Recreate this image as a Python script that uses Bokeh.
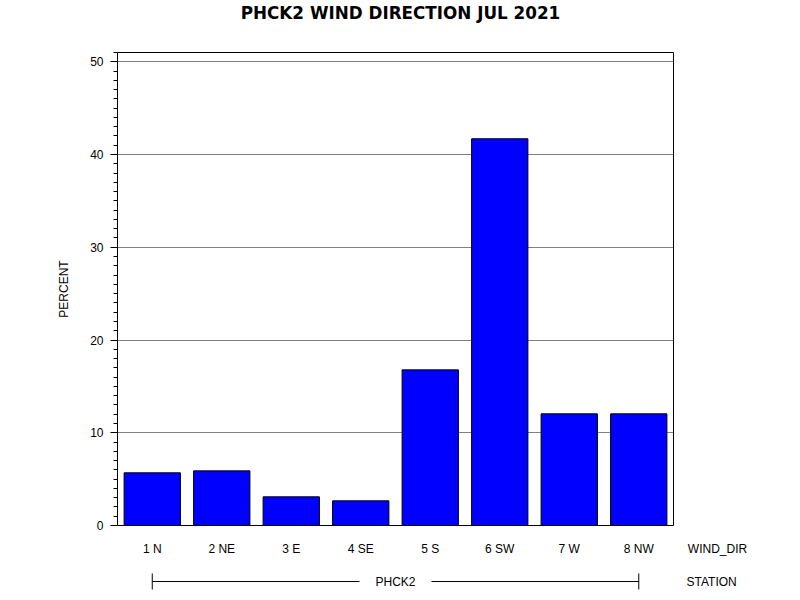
from bokeh.plotting import figure
from bokeh.layouts import column
from bokeh.models import Range1d, SingleIntervalTicker, FixedTicker
from bokeh.core.properties import value
from bokeh.embed import file_html
from bokeh.resources import INLINE

# ---- data ----
wind_dirs = ["1 N", "2 NE", "3 E", "4 SE", "5 S", "6 SW", "7 W", "8 NW"]
percent = [5.68, 5.89, 3.09, 2.66, 16.78, 41.70, 12.04, 12.04]
station = "PHCK2"
title_text = "PHCK2 WIND DIRECTION JUL 2021"
y_label = "PERCENT"
x_label = "WIND_DIR"
group_label = "STATION"
y_max = 51

FONT = "Liberation Sans"
TITLE_FONT = "DejaVu Sans"

# ---- layout constants (pixels) ----
W = 784
H_TITLE = 30
H_MAIN = 532
H_STRIP = 30
BOX_L, BOX_R, BOX_T, BOX_B = 117, 673, 52, 525
FRAME_T = 49
FRAME_B = 528

n = len(wind_dirs)
px_x = (BOX_R - BOX_L) / n
px_y = (BOX_B - BOX_T) / y_max

xpos = [i + 0.5 for i in range(n)]

# ---- title strip ----
t = figure(width=W, height=H_TITLE,
           x_range=Range1d(0, (W - BOX_L) / px_x),
           y_range=Range1d(H_TITLE, 0),
           output_backend="svg", toolbar_location=None,
           x_axis_location=None, y_axis_location=None,
           min_border_left=BOX_L, min_border_right=0, min_border_top=0, min_border_bottom=0)
t.outline_line_color = None
t.xgrid.visible = False
t.ygrid.visible = False
t.text(x=[(400 - BOX_L) / px_x], y=[12], text=[title_text],
       text_font=value(TITLE_FONT), text_font_size="16.8px", text_font_style="bold",
       text_align="center", text_baseline="middle", text_color="black")

# ---- main chart ----
p = figure(width=W, height=H_MAIN,
           x_range=t.x_range,
           y_range=Range1d(-(FRAME_B - BOX_B) / px_y, y_max + (BOX_T - FRAME_T) / px_y),
           output_backend="svg", toolbar_location=None,
           min_border_left=BOX_L, min_border_right=0, min_border_top=FRAME_T - H_TITLE,
           min_border_bottom=H_TITLE + H_MAIN - FRAME_B)
p.outline_line_color = None
p.background_fill_color = "white"
p.border_fill_color = "white"

# grid (horizontal only, inside the plot box)
p.xgrid.grid_line_color = None
p.ygrid.ticker = SingleIntervalTicker(interval=10)
p.ygrid.grid_line_color = "#808080"
p.ygrid.bounds = (0, y_max)
p.ygrid.cross_bounds = (0, n)

# bars
p.vbar(x=xpos, top=percent, width=0.81, fill_color="#0000FF", line_color="black", line_width=1)

# plot box
p.quad(left=[0], right=[n], bottom=[0], top=[y_max], fill_color=None, line_color="black", line_width=1)

# y axis
p.yaxis.bounds = (0, y_max)
p.yaxis.ticker = SingleIntervalTicker(interval=10, num_minor_ticks=10)
p.yaxis.major_tick_out = 7
p.yaxis.major_tick_in = 0
p.yaxis.minor_tick_out = 4
p.yaxis.minor_tick_in = 0
p.yaxis.major_tick_line_color = "black"
p.yaxis.minor_tick_line_color = "black"
p.yaxis.axis_line_color = "black"
p.yaxis.major_label_text_font = FONT
p.yaxis.major_label_text_font_size = "12px"
p.yaxis.major_label_text_color = "black"
p.yaxis.major_label_standoff = 7
p.yaxis.axis_label = y_label
p.yaxis.axis_label_text_font = FONT
p.yaxis.axis_label_text_font_size = "12px"
p.yaxis.axis_label_text_font_style = "normal"
p.yaxis.axis_label_text_color = "black"
p.yaxis.axis_label_standoff = 16

# x axis: category labels plus the WIND_DIR variable name
label_x = (717 - BOX_L) / px_x
p.xaxis.ticker = FixedTicker(ticks=xpos + [label_x], minor_ticks=[])
overrides = {x: lab for x, lab in zip(xpos, wind_dirs)}
overrides[label_x] = x_label
p.xaxis.major_label_overrides = overrides
p.xaxis.axis_line_color = None
p.xaxis.major_tick_line_color = None
p.xaxis.minor_tick_line_color = None
p.xaxis.major_tick_out = 0
p.xaxis.major_tick_in = 0
p.xaxis.major_label_text_font = FONT
p.xaxis.major_label_text_font_size = "12px"
p.xaxis.major_label_text_color = "black"
p.xaxis.major_label_standoff = 13

# ---- station strip (frame aligned with the main frame) ----
top_s = H_TITLE + H_MAIN
s = figure(width=W, height=H_STRIP,
           x_range=t.x_range,
           y_range=Range1d(top_s + H_STRIP, top_s),
           output_backend="svg", toolbar_location=None,
           x_axis_location=None, y_axis_location=None,
           min_border_left=BOX_L, min_border_right=0, min_border_top=0, min_border_bottom=0)
s.outline_line_color = None
s.xgrid.visible = False
s.ygrid.visible = False
s.background_fill_color = "white"
s.border_fill_color = "white"

first, last = xpos[0], xpos[-1]
mid = (first + last) / 2
gap = 36 / px_x
line_y = 581
s.segment(x0=[first, mid + gap], y0=[line_y, line_y], x1=[mid - gap, last], y1=[line_y, line_y],
          line_color="black", line_width=1)
s.segment(x0=[first, last], y0=[573, 573], x1=[first, last], y1=[589, 589],
          line_color="black", line_width=1)
s.text(x=[mid], y=[line_y], text=[station], text_font=value(FONT), text_font_size="12px",
       text_align="center", text_baseline="middle", text_color="black")
s.text(x=[(686 - BOX_L) / px_x], y=[line_y], text=[group_label], text_font=value(FONT),
       text_font_size="12px", text_align="left", text_baseline="middle", text_color="black")

layout = column(t, p, s, spacing=0)
open("out.html", "w").write(file_html(layout, INLINE))
